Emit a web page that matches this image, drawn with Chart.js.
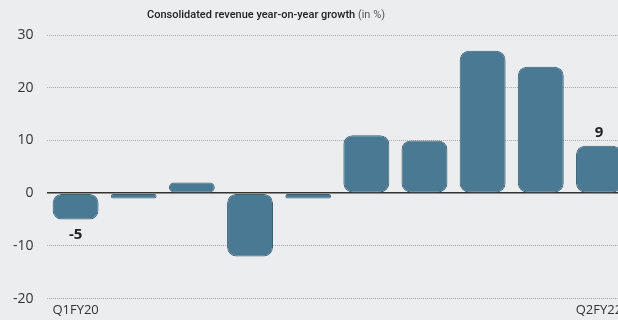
<!DOCTYPE html>
<html lang="en">
<head>
    <meta charset="UTF-8">
    <title>Consolidated revenue growth</title>
    <script src="https://cdn.jsdelivr.net/npm/chart.js"></script>
    <style>
        html, body {
            margin: 0;
            padding: 0;
            background: #ecedef;
            overflow: hidden;
        }
        .chart-container {
            width: 628px;
            height: 320px;
        }
    </style>
</head>
<body>
    <div class="chart-container">
        <canvas id="barChart"></canvas>
    </div>

    <script>
        const quarters = ['Q1FY20', 'Q2FY20', 'Q3FY20', 'Q4FY20', 'Q1FY21', 'Q2FY21', 'Q3FY21', 'Q4FY21', 'Q1FY22', 'Q2FY22'];
        const growth = [-5, -1, 2, -12, -1, 11, 10, 27, 24, 9];
        const yTicks = [30, 20, 10, 0, -10, -20];
        const labelledBars = [0, 9];

        // title with bold part and normal "(in %)"
        const titlePlugin = {
            id: 'mixedTitle',
            afterDraw(chart) {
                const ctx = chart.ctx;
                const bold = 'Consolidated revenue year-on-year growth';
                const rest = ' (in %)';
                ctx.save();
                ctx.textBaseline = 'middle';
                ctx.font = '500 11px Roboto';
                const w1 = ctx.measureText(bold).width;
                ctx.font = '11px Roboto';
                const w2 = ctx.measureText(rest).width;
                const x = 266 - (w1 + w2) / 2;
                ctx.fillStyle = '#222';
                ctx.font = '500 11px Roboto';
                ctx.fillText(bold, x, 15);
                ctx.fillStyle = '#555';
                ctx.font = '11px Roboto';
                ctx.fillText(rest, x + w1, 15);
                ctx.restore();
            }
        };

        // value labels + first/last quarter names
        const labelPlugin = {
            id: 'valueLabels',
            afterDatasetsDraw(chart) {
                const ctx = chart.ctx;
                const meta = chart.getDatasetMeta(0);
                const xScale = chart.scales.x;
                ctx.save();
                ctx.textAlign = 'center';
                labelledBars.forEach(i => {
                    const bar = meta.data[i];
                    const v = growth[i];
                    ctx.font = 'bold 15px "Open Sans"';
                    ctx.fillStyle = '#222';
                    if (v < 0) {
                        ctx.textBaseline = 'top';
                        ctx.fillText(String(v), bar.x, bar.y + 8);
                    } else {
                        ctx.textBaseline = 'bottom';
                        ctx.fillText(String(v), bar.x, bar.y - 5);
                    }
                    ctx.font = '13px "Open Sans"';
                    ctx.fillStyle = '#333';
                    ctx.textBaseline = 'middle';
                    ctx.fillText(quarters[i], xScale.getPixelForValue(i), chart.chartArea.bottom + 12);
                });
                ctx.restore();
            }
        };

        new Chart(document.getElementById('barChart'), {
            type: 'bar',
            data: {
                labels: quarters,
                datasets: [{
                    data: growth,
                    backgroundColor: '#4a7a93',
                    borderColor: '#3b6074',
                    borderWidth: 1,
                    borderRadius: 9,
                    borderSkipped: false,
                    categoryPercentage: 0.79,
                    barPercentage: 1.0
                }]
            },
            options: {
                responsive: true,
                maintainAspectRatio: false,
                animation: false,
                layout: {
                    padding: { top: 35, left: 0, right: 0, bottom: 13 }
                },
                plugins: {
                    legend: { display: false },
                    tooltip: { enabled: false }
                },
                scales: {
                    x: {
                        grid: { display: false },
                        border: { display: false },
                        ticks: { display: false }
                    },
                    y: {
                        min: -20,
                        max: 30,
                        afterBuildTicks: axis => {
                            axis.ticks = yTicks.map(v => ({ value: v }));
                        },
                        border: {
                            display: false,
                            dash: c => c.tick && c.tick.value === 0 ? [] : [1, 1]
                        },
                        grid: {
                            drawTicks: false,
                            color: c => c.tick.value === 0 ? '#333' : '#a8a8a8',
                            lineWidth: c => c.tick.value === 0 ? 1.5 : 1
                        },
                        ticks: {
                            padding: 13,
                            color: '#333',
                            font: { family: 'Open Sans', size: 14 }
                        }
                    }
                }
            },
            plugins: [titlePlugin, labelPlugin]
        });
    </script>
</body>
</html>
